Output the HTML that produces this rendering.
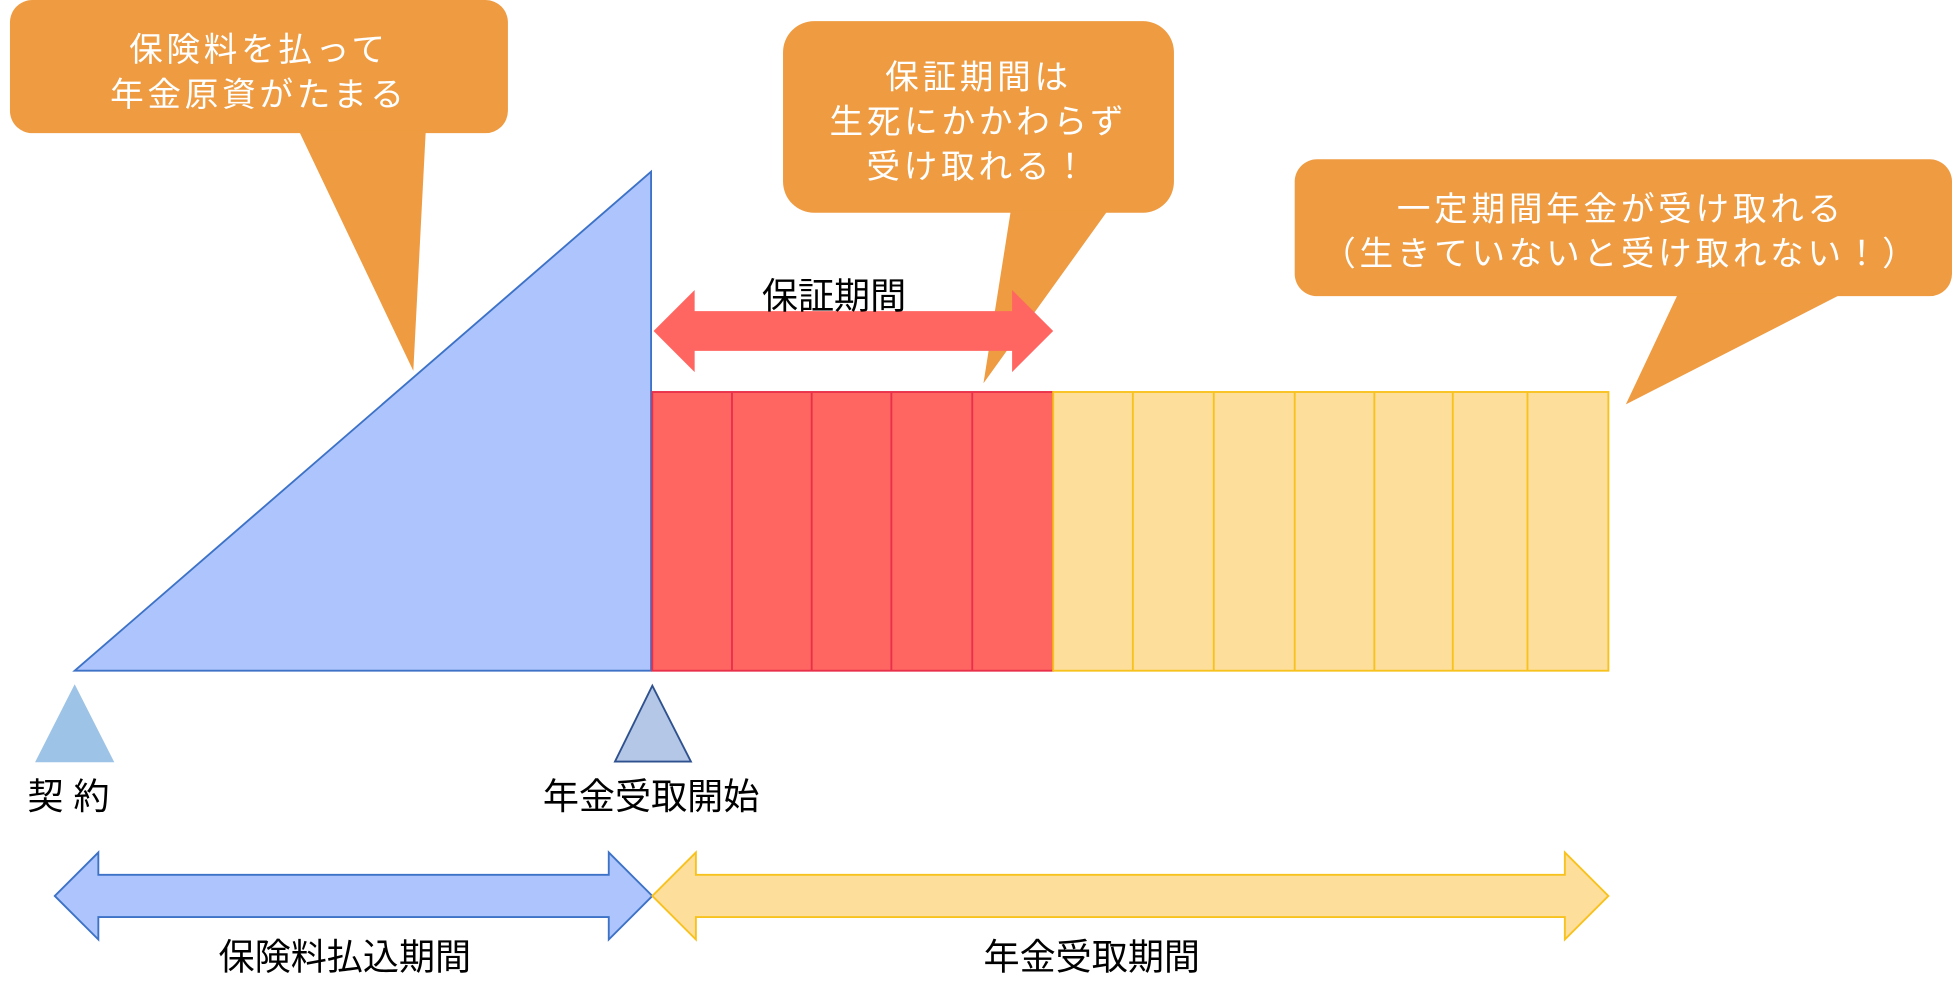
<!DOCTYPE html>
<html><head><meta charset="utf-8"><style>
html,body{margin:0;padding:0;background:#fff;}
svg{display:block;}
text{font-family:"Liberation Sans","Noto Sans CJK JP",sans-serif;}
</style></head><body>
<svg width="1952" height="998" viewBox="0 0 1568 802" preserveAspectRatio="none" xmlns="http://www.w3.org/2000/svg">
<rect x="8" y="0" width="400" height="107" rx="18" fill="#EE9B41"/>
<polygon points="240,105 332,298 342,105" fill="#EE9B41"/>
<text x="208" y="49" text-anchor="middle" font-size="27" fill="#fff" letter-spacing="3">保険料を払って</text>
<text x="208" y="85" text-anchor="middle" font-size="27" fill="#fff" letter-spacing="3">年金原資がたまる</text>
<polygon points="60,539 523,138 523,539" fill="#ADC5FC" stroke="#3D72C6" stroke-width="1.5"/>
<rect x="524" y="315" width="322" height="224" fill="#FF6661" stroke="#E8304A" stroke-width="1.5"/>
<g stroke="#E8304A" stroke-width="1.5"><line x1="588" y1="315" x2="588" y2="539"/><line x1="652" y1="315" x2="652" y2="539"/><line x1="716" y1="315" x2="716" y2="539"/><line x1="781" y1="315" x2="781" y2="539"/></g>
<rect x="846" y="315" width="446" height="224" fill="#FDDE9A" stroke="#F8C21E" stroke-width="1.5"/>
<g stroke="#F8C21E" stroke-width="1.5"><line x1="910" y1="315" x2="910" y2="539"/><line x1="975" y1="315" x2="975" y2="539"/><line x1="1040" y1="315" x2="1040" y2="539"/><line x1="1104" y1="315" x2="1104" y2="539"/><line x1="1167" y1="315" x2="1167" y2="539"/><line x1="1227" y1="315" x2="1227" y2="539"/></g>
<rect x="629" y="17" width="314" height="154" rx="25" fill="#EE9B41"/>
<polygon points="812,169 790,308 890,169" fill="#EE9B41"/>
<text x="786" y="71" text-anchor="middle" font-size="27" fill="#fff" letter-spacing="3">保証期間は</text>
<text x="786" y="107" text-anchor="middle" font-size="27" fill="#fff" letter-spacing="3">生死にかかわらず</text>
<text x="786" y="143" text-anchor="middle" font-size="27" fill="#fff" letter-spacing="3">受け取れる！</text>
<rect x="1040" y="128" width="528" height="110" rx="18" fill="#EE9B41"/>
<polygon points="1348,236 1306,325 1480,236" fill="#EE9B41"/>
<text x="1302" y="177" text-anchor="middle" font-size="27" fill="#fff" letter-spacing="3">一定期間年金が受け取れる</text>
<text x="1302" y="213" text-anchor="middle" font-size="27" fill="#fff" letter-spacing="3">（生きていないと受け取れない！）</text>
<polygon points="525,266 558,233 558,250 813,250 813,233 846,266 813,299 813,282 558,282 558,299" fill="#FF6661"/>
<text x="670" y="248" text-anchor="middle" font-size="29" fill="#000">保証期間</text>
<polygon points="29,612 60,551 91,612" fill="#9DC3E6" stroke="#9DC3E6"/>
<polygon points="494,612 524,551 555,612" fill="#B4C7E7" stroke="#2F528F" stroke-width="1.5"/>
<text x="55" y="650" text-anchor="middle" font-size="29" fill="#000">契 約</text>
<text x="523" y="650" text-anchor="middle" font-size="29" fill="#000">年金受取開始</text>
<polygon points="44,720 79,685 79,703 489,703 489,685 524,720 489,755 489,737 79,737 79,755" fill="#ADC5FC" stroke="#3D72C6" stroke-width="1.5"/>
<polygon points="524,720 559,685 559,703 1257,703 1257,685 1292,720 1257,755 1257,737 559,737 559,755" fill="#FDDE9A" stroke="#F8C21E" stroke-width="1.5"/>
<text x="277" y="779" text-anchor="middle" font-size="29" fill="#000">保険料払込期間</text>
<text x="877" y="779" text-anchor="middle" font-size="29" fill="#000">年金受取期間</text>
</svg>
</body></html>
